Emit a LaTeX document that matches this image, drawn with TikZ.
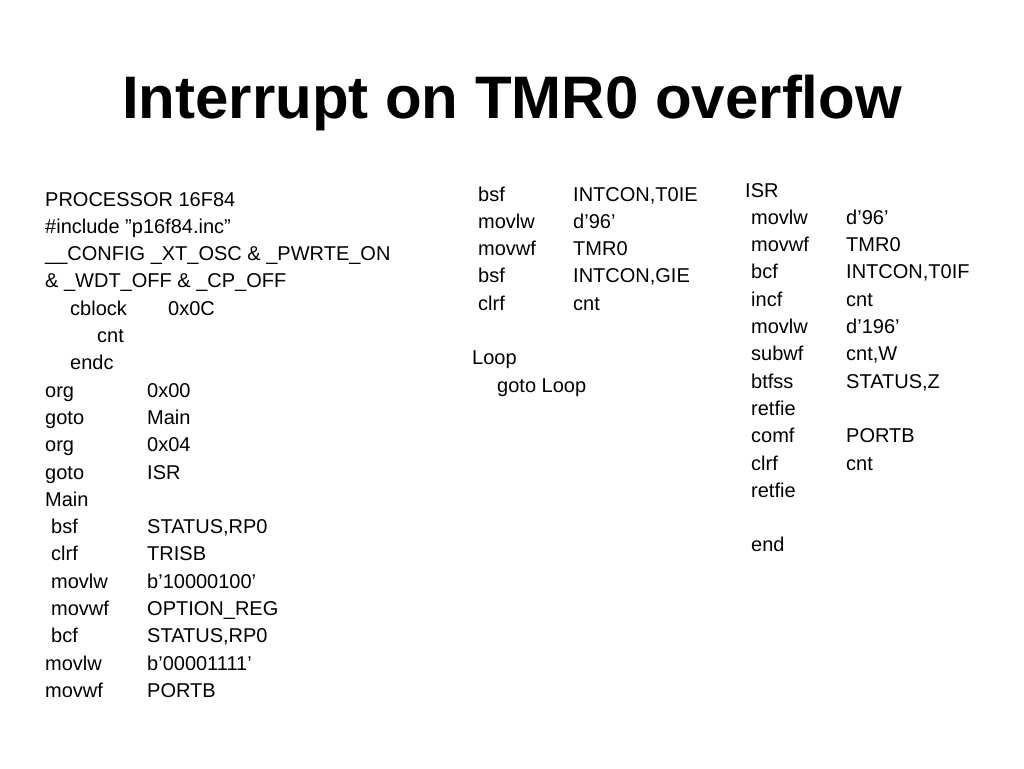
\documentclass[tikz,border=0pt]{standalone}
\usepackage{fontspec}
\setmainfont{Liberation Sans}
\begin{document}
\begin{tikzpicture}[x=1pt,y=-1pt,
  t/.style={anchor=base west,inner sep=0pt,font=\fontsize{20}{24}\selectfont},
  ttl/.style={anchor=base,inner sep=0pt,font=\bfseries\fontsize{60}{70}\selectfont}]
\useasboundingbox[fill=white] (0,0) rectangle (1024,768);
\node[ttl] (title) at (512,118) {Interrupt on TMR0 overflow};
% left column
\foreach \i/\a/\xa/\b in {
 0/PROCESSOR 16F84/45/,
 1/{\#include "p16f84.inc"}/45/,
 2/{\_\_CONFIG \_XT\_OSC \& \_PWRTE\_ON}/45/,
 3/{\& \_WDT\_OFF \& \_CP\_OFF}/45/,
 5/cnt/97/,
 6/endc/70/,
 7/org/45/0x00,
 8/goto/45/Main,
 9/org/45/0x04,
 10/goto/45/ISR,
 11/Main/45/,
 12/bsf/51/{STATUS,RP0},
 13/clrf/51/TRISB,
 14/movlw/51/b'10000100',
 15/movwf/51/OPTION\_REG,
 16/bcf/51/{STATUS,RP0},
 17/movlw/45/b’00001111’,
 18/movwf/45/PORTB}
{ \node[t] (l\i) at (\xa,{206+27.3*\i}) {\a};
  \node[t] (lb\i) at (147,{206+27.3*\i}) {\b}; }
\node[t] (l4) at (70,{206+27.3*4}) {cblock};
\node[t] (lb4) at (168,{206+27.3*4}) {0x0C};
% middle column
\foreach \i/\a/\b in {0/bsf/{INTCON,T0IE},1/movlw/d'96',2/movwf/TMR0,3/bsf/{INTCON,GIE},4/clrf/cnt}
{ \node[t] (m\i) at (478,{201+27.3*\i}) {\a};
  \node[t] (mb\i) at (573,{201+27.3*\i}) {\b}; }
\node[t] (loop) at (472,{201+27.3*6}) {Loop};
\node[t] (gl) at (497,{201+27.3*7}) {goto Loop};
% right column
\node[t] (isr) at (745,197) {ISR};
\foreach \i/\a/\b in {1/movlw/d'96',2/movwf/TMR0,3/bcf/{INTCON,T0IF},4/incf/cnt,5/movlw/d'196',6/subwf/{cnt,W},7/btfss/{STATUS,Z},8/retfie/,9/comf/PORTB,10/clrf/cnt,11/retfie/,13/end/}
{ \node[t] (r\i) at (751,{197+27.3*\i}) {\a};
  \node[t] (rb\i) at (846,{197+27.3*\i}) {\b}; }
\end{tikzpicture}
\end{document}
